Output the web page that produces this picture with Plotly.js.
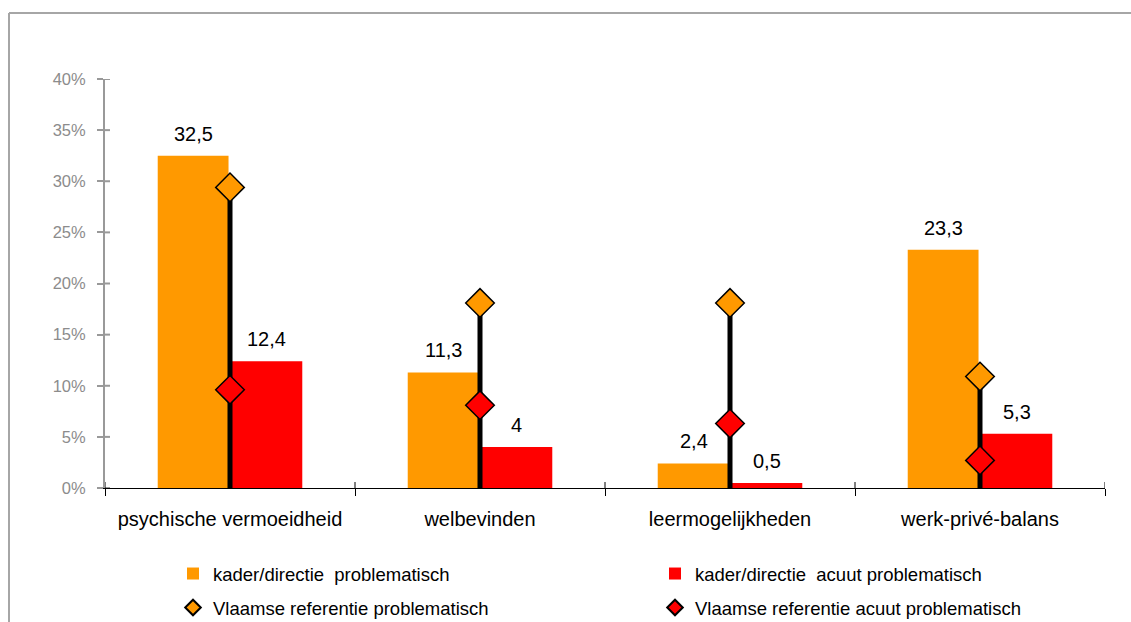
<!DOCTYPE html>
<html>
<head>
<meta charset="utf-8">
<script src="https://cdn.plot.ly/plotly-3.0.1.min.js"></script>
<style>html,body{margin:0;padding:0;background:#fff;}#chart{width:1131px;height:622px;}</style>
</head>
<body>
<div id="chart"></div>
<script>
const categories = ['psychische vermoeidheid', 'welbevinden', 'leermogelijkheden', 'werk-privé-balans'];
const kaderProbleem = [32.5, 11.3, 2.4, 23.3];
const kaderAcuut = [12.4, 4, 0.5, 5.3];
const vlaamsProbleem = [29.4, 18.1, 18.1, 10.9];
const vlaamsAcuut = [9.6, 8.1, 6.3, 2.7];
const yTickVals = [0, 5, 10, 15, 20, 25, 30, 35, 40];
const yTickText = ['0%', '5%', '10%', '15%', '20%', '25%', '30%', '35%', '40%'];
const seriesNames = ['kader/directie  problematisch', 'kader/directie  acuut problematisch',
  'Vlaamse referentie problematisch', 'Vlaamse referentie acuut problematisch'];

const ORANGE = '#FF9900', RED = '#FF0000';
const FONT = 'Liberation Sans, Arial, sans-serif';
const fmt = v => String(v).replace('.', ',');

const traces = [
  {type: 'bar', name: seriesNames[0], x: categories, y: kaderProbleem,
   marker: {color: ORANGE}, legend: 'legend'},
  {type: 'bar', name: seriesNames[1], x: categories, y: kaderAcuut,
   marker: {color: RED}, legend: 'legend2'},
  {type: 'scatter', mode: 'markers', name: seriesNames[2], x: categories, y: vlaamsProbleem,
   marker: {symbol: 'diamond', size: 22, color: ORANGE, line: {color: '#000', width: 1.5}},
   error_y: {type: 'data', symmetric: false, array: vlaamsProbleem.map(() => 0),
             arrayminus: vlaamsProbleem, color: '#000', thickness: 5, width: 0},
   legend: 'legend3'},
  {type: 'scatter', mode: 'markers', name: seriesNames[3], x: categories, y: vlaamsAcuut,
   marker: {symbol: 'diamond', size: 22, color: RED, line: {color: '#000', width: 1.5}},
   legend: 'legend4'}
];

const annotations = [];
categories.forEach((c, i) => {
  annotations.push({x: c, y: kaderProbleem[i], xref: 'x', yref: 'y', text: fmt(kaderProbleem[i]),
    showarrow: false, yanchor: 'bottom', xshift: -36.5, yshift: 9,
    font: {family: FONT, size: 20, color: '#000'}});
  annotations.push({x: c, y: kaderAcuut[i], xref: 'x', yref: 'y', text: fmt(kaderAcuut[i]),
    showarrow: false, yanchor: 'bottom', xshift: 36.5, yshift: 9,
    font: {family: FONT, size: 20, color: '#000'}});
});

const W = 1131, H = 622, ML = 105, MR = 26, MT = 79, MB = 134;
const PW = W - ML - MR, PH = H - MT - MB;
const px2x = p => (p - ML) / PW;
const py2y = p => (H - MB - p) / PH;

const shapes = [];
// frame (top + left)
shapes.push({type: 'line', xref: 'paper', yref: 'paper', x0: px2x(9), x1: px2x(1131), y0: py2y(13), y1: py2y(13),
  line: {color: '#a6a6a6', width: 2}});
shapes.push({type: 'line', xref: 'paper', yref: 'paper', x0: px2x(9), x1: px2x(9), y0: py2y(13), y1: py2y(622),
  line: {color: '#a6a6a6', width: 2}});
// inner half of cross ticks on y axis
yTickVals.forEach(v => shapes.push({type: 'line', xref: 'paper', yref: 'y', x0: 0, x1: 5 / PW, y0: v, y1: v,
  line: {color: '#999999', width: 2}}));
// inner half of cross ticks on x axis (category boundaries)
for (let k = 0; k <= categories.length; k++) {
  shapes.push({type: 'line', xref: 'x', yref: 'paper', x0: k - 0.5, x1: k - 0.5, y0: 0, y1: 6 / PH,
    line: {color: '#000', width: 1}});
}

const legendBase = (xpx, ypx, extra) => Object.assign({
  orientation: 'h', xref: 'container', yref: 'container',
  x: xpx / W, xanchor: 'left', y: 1 - ypx / H, yanchor: 'middle',
  font: {family: FONT, size: 18.5, color: '#000'}, bgcolor: 'rgba(0,0,0,0)', borderwidth: 0
}, extra || {});

const layout = {
  width: W, height: H,
  margin: {l: ML, r: MR, t: MT, b: MB, pad: 0, autoexpand: false},
  paper_bgcolor: '#fff', plot_bgcolor: '#fff',
  font: {family: FONT, color: '#000'},
  barmode: 'group', bargap: 0.41, bargroupgap: 0.04,
  showlegend: true,
  xaxis: {type: 'category', range: [-0.5, 3.5], showline: true, linecolor: '#000', linewidth: 1,
    ticks: 'outside', tickson: 'boundaries', ticklen: 7, tickcolor: '#000', tickwidth: 1,
    tickfont: {family: FONT, size: 20, color: '#000'}, showgrid: false, zeroline: false,
    ticklabelstandoff: 13, automargin: false},
  yaxis: {range: [0, 40], tickvals: yTickVals, ticktext: yTickText, showline: true,
    linecolor: '#999999', linewidth: 2, ticks: 'outside', ticklen: 6, tickcolor: '#999999', tickwidth: 2,
    tickfont: {family: FONT, size: 16.5, color: '#8c8c8c'}, showgrid: false, zeroline: false,
    ticklabelstandoff: 8, automargin: false},
  legend: legendBase(173, 574),
  legend2: legendBase(655, 574),
  legend3: legendBase(173, 608, {itemsizing: 'constant'}),
  legend4: legendBase(655, 608, {itemsizing: 'constant'}),
  annotations: annotations,
  shapes: shapes,
  hovermode: false
};

Plotly.newPlot('chart', traces, layout, {staticPlot: true, displayModeBar: false});
</script>
</body>
</html>
